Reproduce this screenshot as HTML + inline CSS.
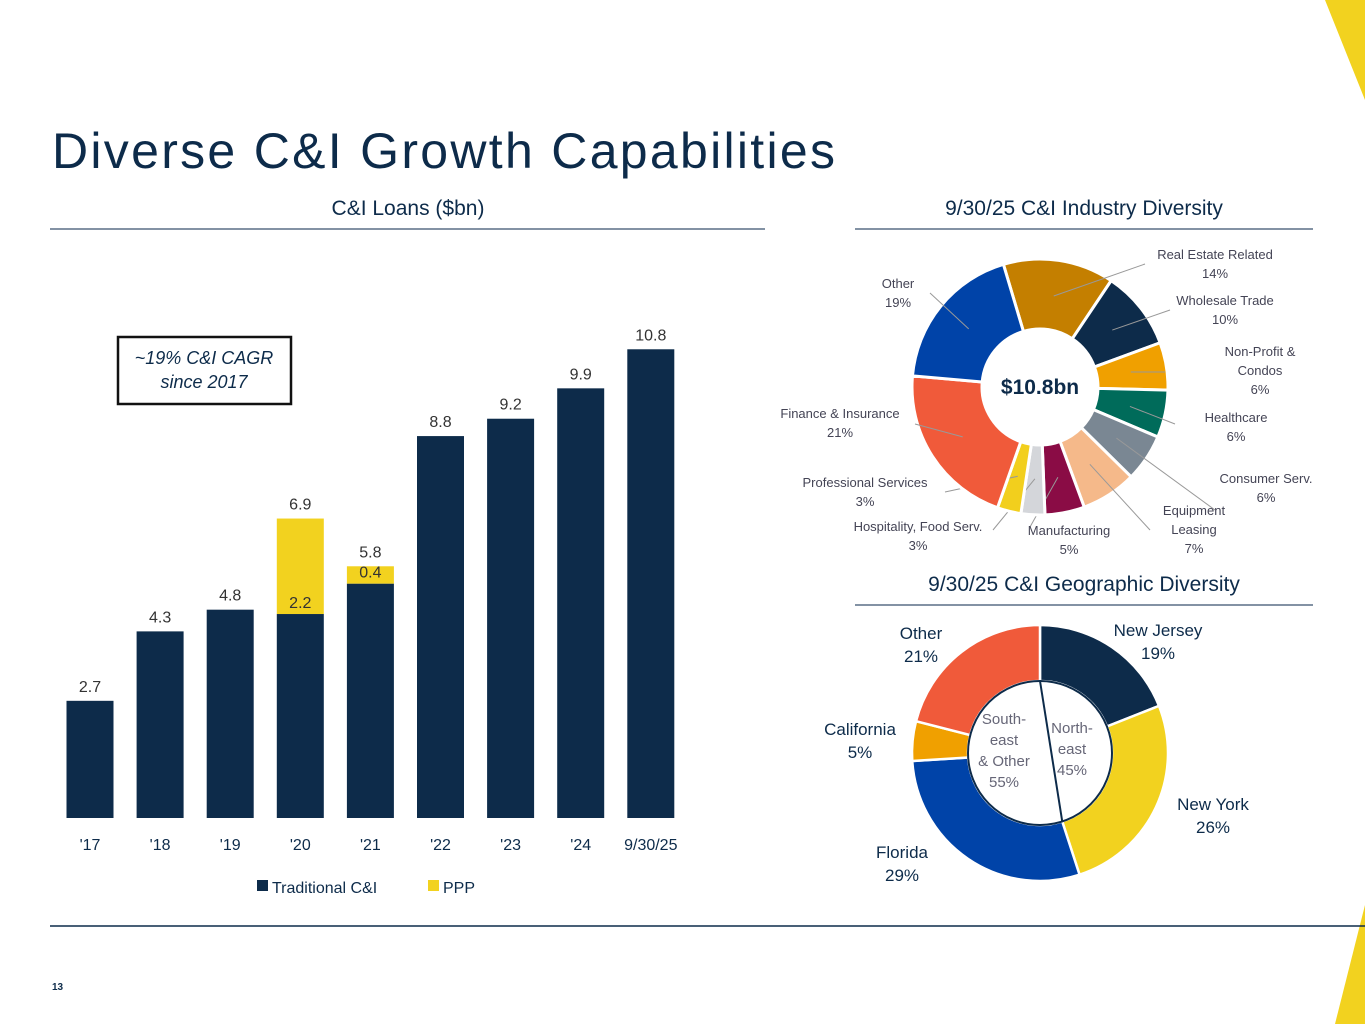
<!DOCTYPE html>
<html><head><meta charset="utf-8"><style>
body{margin:0;width:1365px;height:1024px;background:#fff;overflow:hidden;font-family:"Liberation Sans",sans-serif;}
svg{position:absolute;left:0;top:0}
</style></head><body>
<svg width="1365" height="1024" viewBox="0 0 1365 1024" xmlns="http://www.w3.org/2000/svg" id="root">
<polygon points="1325,0 1365,0 1365,100" fill="#f2d21f"/>
<polygon points="1365,905 1365,1024 1335,1024" fill="#f2d21f"/>
<text x="52" y="168" font-size="50" fill="#0d2b4a" textLength="783" lengthAdjust="spacing">Diverse C&amp;I Growth Capabilities</text>
<text x="408" y="215" font-size="21" fill="#0d2b4a" text-anchor="middle">C&amp;I Loans ($bn)</text>
<line x1="50" y1="229" x2="765" y2="229" stroke="#5a6f85" stroke-width="1.5"/>
<text x="1084" y="215" font-size="21" fill="#0d2b4a" text-anchor="middle">9/30/25 C&amp;I Industry Diversity</text>
<line x1="855" y1="229" x2="1313" y2="229" stroke="#5a6f85" stroke-width="1.5"/>
<text x="1084" y="591" font-size="21" fill="#0d2b4a" text-anchor="middle">9/30/25 C&amp;I Geographic Diversity</text>
<line x1="855" y1="605" x2="1313" y2="605" stroke="#5a6f85" stroke-width="1.5"/>
<line x1="50" y1="926" x2="1365" y2="926" stroke="#0d2b4a" stroke-width="1.5"/>
<text x="52" y="990" font-size="10" font-weight="bold" fill="#0d2b4a">13</text>
<rect x="118" y="337" width="173" height="67" fill="#fff" stroke="#111" stroke-width="2.5"/>
<text x="204" y="364" font-size="18" font-style="italic" fill="#0d2b4a" text-anchor="middle">~19% C&amp;I CAGR</text>
<text x="204" y="388" font-size="18" font-style="italic" fill="#0d2b4a" text-anchor="middle">since 2017</text>
<g id="bars"></g>
<rect x="257" y="880" width="11" height="11" fill="#0d2b4a"/>
<text x="272" y="893" font-size="16" fill="#0d2b4a">Traditional C&amp;I</text>
<rect x="428" y="880" width="11" height="11" fill="#f2d21f"/>
<text x="443" y="893" font-size="16" fill="#0d2b4a">PPP</text>
<g id="ind"></g>
<g id="geo"></g>
</svg>
<script>
const categories=["'17","'18","'19","'20","'21","'22","'23","'24","9/30/25"];
const traditional=[2.7,4.3,4.8,4.7,5.4,8.8,9.2,9.9,10.8];
const ppp=[0,0,0,2.2,0.4,0,0,0,0];
const totals=[2.7,4.3,4.8,6.9,5.8,8.8,9.2,9.9,10.8];
const industryLabels=["Real Estate Related","Wholesale Trade","Non-Profit & Condos","Healthcare","Consumer Serv.","Equipment Leasing","Manufacturing","Hospitality, Food Serv.","Professional Services","Finance & Insurance","Other"];
const industryValues=[14,10,6,6,6,7,5,3,3,21,19];
const geoLabels=["New Jersey","New York","Florida","California","Other"];
const geoValues=[19,26,29,5,21];
const NS="http://www.w3.org/2000/svg";
function mk(tag,attrs,parent){const e=document.createElementNS(NS,tag);for(const k in attrs)e.setAttribute(k,attrs[k]);parent.appendChild(e);return e;}
const base=818,ppu=43.4,x0=90,step=70.1,bw=47;
const y=v=>base-v*ppu, xc=i=>x0+i*step;
const bars=document.getElementById('bars');
categories.forEach((c,i)=>{
 let r=mk('rect',{x:xc(i)-bw/2,y:y(traditional[i]),width:bw,height:traditional[i]*ppu,fill:'#0d2b4a'},bars);
 
 
 if(ppp[i]>0){
  let p=mk('rect',{x:xc(i)-bw/2,y:y(traditional[i]+ppp[i]),width:bw,height:ppp[i]*ppu,fill:'#f2d21f'},bars);
  
  
  let pt=mk('text',{x:xc(i),y:y(traditional[i])-6,'font-size':16,fill:'#333','text-anchor':'middle'},bars);pt.textContent=ppp[i].toFixed(1);
  
  
 }
 let t=mk('text',{x:xc(i),y:y(totals[i])-9,'font-size':16,fill:'#333','text-anchor':'middle'},bars);t.textContent=totals[i].toFixed(1);
 
 
 let l=mk('text',{x:xc(i),y:850,'font-size':16,fill:'#0d2b4a','text-anchor':'middle'},bars);l.textContent=c;
 
 
});
function arc(cx,cy,r0,r1,a0,a1){const p=(r,a)=>[cx+r*Math.sin(a),cy-r*Math.cos(a)];const lg=a1-a0>Math.PI?1:0;
 const [x1,y1]=p(r1,a0),[x2,y2]=p(r1,a1),[x3,y3]=p(r0,a1),[x4,y4]=p(r0,a0);
 return `M${x1},${y1}A${r1},${r1} 0 ${lg} 1 ${x2},${y2}L${x3},${y3}A${r0},${r0} 0 ${lg} 0 ${x4},${y4}Z`;}
const ind=document.getElementById('ind');
const indColors=['#c47f00','#0d2b4a','#f0a000','#006b5a','#7a8793','#f5b98a','#8a0c45','#d4d6da','#f2cf1d','#f05a3a','#0043a8'];
const indLab=[[1215,259],[1225,305],[1260,356],[1236,422],[1266,483],[1194,515],[1069,535],[918,531],[865,487],[840,418],[898,288]];
const indLine=[[1145,264],[1170,310],[1165,372],[1175,424],[1215,510],[1150,530],[1030,527],[993,530],[945,492],[915,424],[930,293]];
let tot=industryValues.reduce((a,b)=>a+b,0),a=-0.29;
const cx=1040,cy=387;
industryValues.forEach((v,i)=>{
 const a1=a+v/tot*2*Math.PI;
 let s=mk('path',{d:arc(cx,cy,58,128,a,a1),fill:indColors[i],stroke:'#fff','stroke-width':3},ind);
 
 
 const m=(a+a1)/2,px=cx+92*Math.sin(m),py=cy-92*Math.cos(m);
 let ln=mk('polyline',{points:`${px},${py} ${indLine[i][0]},${indLine[i][1]}`,fill:'none',stroke:'#999','stroke-width':1},ind);
 
 
 const lab=industryLabels[i];let lines;
 if(i==2)lines=['Non-Profit &','Condos',v+'%'];else if(i==5)lines=['Equipment','Leasing',v+'%'];else lines=[lab,v+'%'];
 let t=mk('text',{x:indLab[i][0],y:indLab[i][1],'font-size':13,fill:'#445','text-anchor':'middle'},ind);
 lines.forEach((s2,k)=>{let ts=mk('tspan',{x:indLab[i][0],dy:k?19:0},t);ts.textContent=s2;});
 
 
 a=a1;
});
let ct=mk('text',{x:cx,y:cy+7,'font-size':21,'font-weight':'bold',fill:'#0d2b4a','text-anchor':'middle'},ind);ct.textContent='$10.8bn';


const geo=document.getElementById('geo');
const geoColors=['#0d2b4a','#f2d21f','#0043a8','#f0a000','#f05a3a'];
const geoLab=[[1158,636],[1213,810],[902,858],[860,735],[921,639]];
const gx=1040,gy=753;let g0=0,gt=geoValues.reduce((a,b)=>a+b,0);
geoValues.forEach((v,i)=>{
 const g1=g0+v/gt*2*Math.PI;
 let s=mk('path',{d:arc(gx,gy,72,128,g0,g1),fill:geoColors[i],stroke:'#fff','stroke-width':2.5},geo);
 
 
 let t=mk('text',{x:geoLab[i][0],y:geoLab[i][1],'font-size':17,fill:'#0d2b4a','text-anchor':'middle'},geo);
 [geoLabels[i],v+'%'].forEach((s2,k)=>{let ts=mk('tspan',{x:geoLab[i][0],dy:k?23:0},t);ts.textContent=s2;});
 
 
 g0=g1;
});
let ic=mk('circle',{cx:gx,cy:gy,r:72,fill:'#fff',stroke:'#0d2b4a','stroke-width':2},geo);


const sp=0.45*2*Math.PI;
let dl=mk('line',{x1:gx,y1:gy-72,x2:gx+72*Math.sin(sp),y2:gy-72*Math.cos(sp),stroke:'#0d2b4a','stroke-width':2},geo);


let ne=mk('text',{x:1072,y:733,'font-size':15,fill:'#667','text-anchor':'middle'},geo);
['North-','east','45%'].forEach((s2,k)=>{let ts=mk('tspan',{x:1072,dy:k?21:0},ne);ts.textContent=s2;});


let se=mk('text',{x:1004,y:724,'font-size':15,fill:'#667','text-anchor':'middle'},geo);
['South-','east','& Other','55%'].forEach((s2,k)=>{let ts=mk('tspan',{x:1004,dy:k?21:0},se);ts.textContent=s2;});


</script>
</body></html>
